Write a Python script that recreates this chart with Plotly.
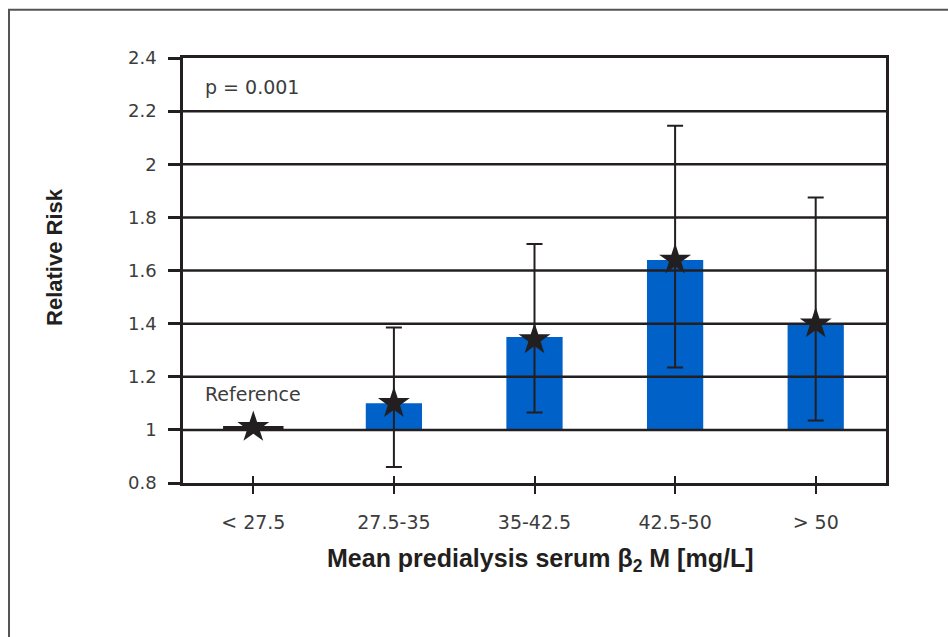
import plotly.graph_objects as go

categories = ["< 27.5", "27.5-35", "35-42.5", "42.5-50", "> 50"]
rr = [1.015, 1.10, 1.35, 1.64, 1.40]
star_y = [1.01, 1.10, 1.34, 1.64, 1.40]
ci_low = [None, 0.86, 1.065, 1.235, 1.035]
ci_high = [None, 1.385, 1.70, 2.145, 1.875]
y_ticks = [0.8, 1.0, 1.2, 1.4, 1.6, 1.8, 2.0, 2.2, 2.4]
y_ticktext = ["0.8", "1", "1.2", "1.4", "1.6", "1.8", "2", "2.2", "2.4"]
x_title = "Mean predialysis serum β<sub>2</sub> M [mg/L]"
y_title = "Relative Risk"

BLUE = "#0061C9"
DARK = "#231f20"
TXT = "#3c3c3c"
LIGHT_FONT = dict(family="DejaVu Sans", size=19, color=TXT)

fig = go.Figure()

bar_colors = [DARK] + [BLUE] * 4
bar_widths = [0.43] + [0.40] * 4
fig.add_trace(go.Bar(
    x=categories, y=[v - 1 for v in rr], base=1,
    marker=dict(color=bar_colors, line=dict(width=0)),
    width=bar_widths, showlegend=False, hoverinfo="skip",
))

# stars with confidence intervals
err_cats = categories[1:]
fig.add_trace(go.Scatter(
    x=err_cats, y=star_y[1:], mode="markers",
    marker=dict(symbol="star", size=24, color=DARK, line=dict(width=0)),
    error_y=dict(type="data", symmetric=False,
                 array=[h - y for h, y in zip(ci_high[1:], star_y[1:])],
                 arrayminus=[y - l for l, y in zip(ci_low[1:], star_y[1:])],
                 color=DARK, thickness=2, width=8),
    showlegend=False, hoverinfo="skip",
))
fig.add_trace(go.Scatter(
    x=categories[:1], y=star_y[:1], mode="markers",
    marker=dict(symbol="star", size=24, color=DARK, line=dict(width=0)),
    showlegend=False, hoverinfo="skip",
))

# horizontal grid lines drawn above the bars
for v in y_ticks[1:-1]:
    fig.add_hline(y=v, line=dict(color=DARK, width=2.5), layer="above")

fig.add_annotation(x=categories[0], y=1.135, text="Reference", showarrow=False,
                   font=LIGHT_FONT, xanchor="center", yanchor="middle")
fig.add_annotation(x=0.028, xref="paper", y=2.29, text="p = 0.001", showarrow=False,
                   font=LIGHT_FONT, xanchor="left", yanchor="middle")

# axis titles
fig.add_annotation(x=0.508, y=-0.181, xref="paper", yref="paper", text=x_title,
                   showarrow=False, xanchor="center", yanchor="middle",
                   font=dict(family="Liberation Sans", size=25, color=DARK, weight="bold"))
fig.add_annotation(x=-0.182, y=0.532, xref="paper", yref="paper", text=y_title,
                   showarrow=False, xanchor="center", yanchor="middle", textangle=-90,
                   font=dict(family="Liberation Sans", size=22, color=DARK, weight="bold"))

# outer frame
fig.add_shape(type="rect", xref="paper", yref="paper",
              x0=-0.2475, x1=1.2, y0=-0.5, y1=1.1135,
              line=dict(color="#555555", width=2), layer="below")

fig.update_layout(
    width=948, height=637,
    margin=dict(l=183, r=62, t=58, b=154),
    paper_bgcolor="white", plot_bgcolor="white",
    bargap=0.6,
    xaxis=dict(
        type="category", range=[-0.5, 4.5],
        showline=True, linecolor=DARK, linewidth=2.5, mirror=True,
        ticks="outside", ticklen=8, tickwidth=2, tickcolor=DARK,
        tickfont=LIGHT_FONT, ticklabelstandoff=12,
        showgrid=False, zeroline=False,
    ),
    xaxis2=dict(
        type="category", range=[-0.5, 4.5], overlaying="x", matches="x",
        ticks="inside", ticklen=7, tickwidth=2, tickcolor=DARK,
        showticklabels=False, showgrid=False, zeroline=False, showline=False,
    ),
    yaxis=dict(
        range=[0.8, 2.4], tickvals=y_ticks, ticktext=y_ticktext,
        showline=True, linecolor=DARK, linewidth=2.5, mirror=True,
        ticks="outside", ticklen=12, tickwidth=2.5, tickcolor=DARK,
        tickfont=dict(family="DejaVu Sans", size=18, color=TXT),
        ticklabelstandoff=8,
        showgrid=False, zeroline=False,
    ),
)

# invisible trace so the crossing tick axis is drawn
fig.add_trace(go.Scatter(x=categories, y=[None] * 5, xaxis="x2", yaxis="y",
                         mode="markers", showlegend=False, hoverinfo="skip"))

fig.write_html("out.html")
